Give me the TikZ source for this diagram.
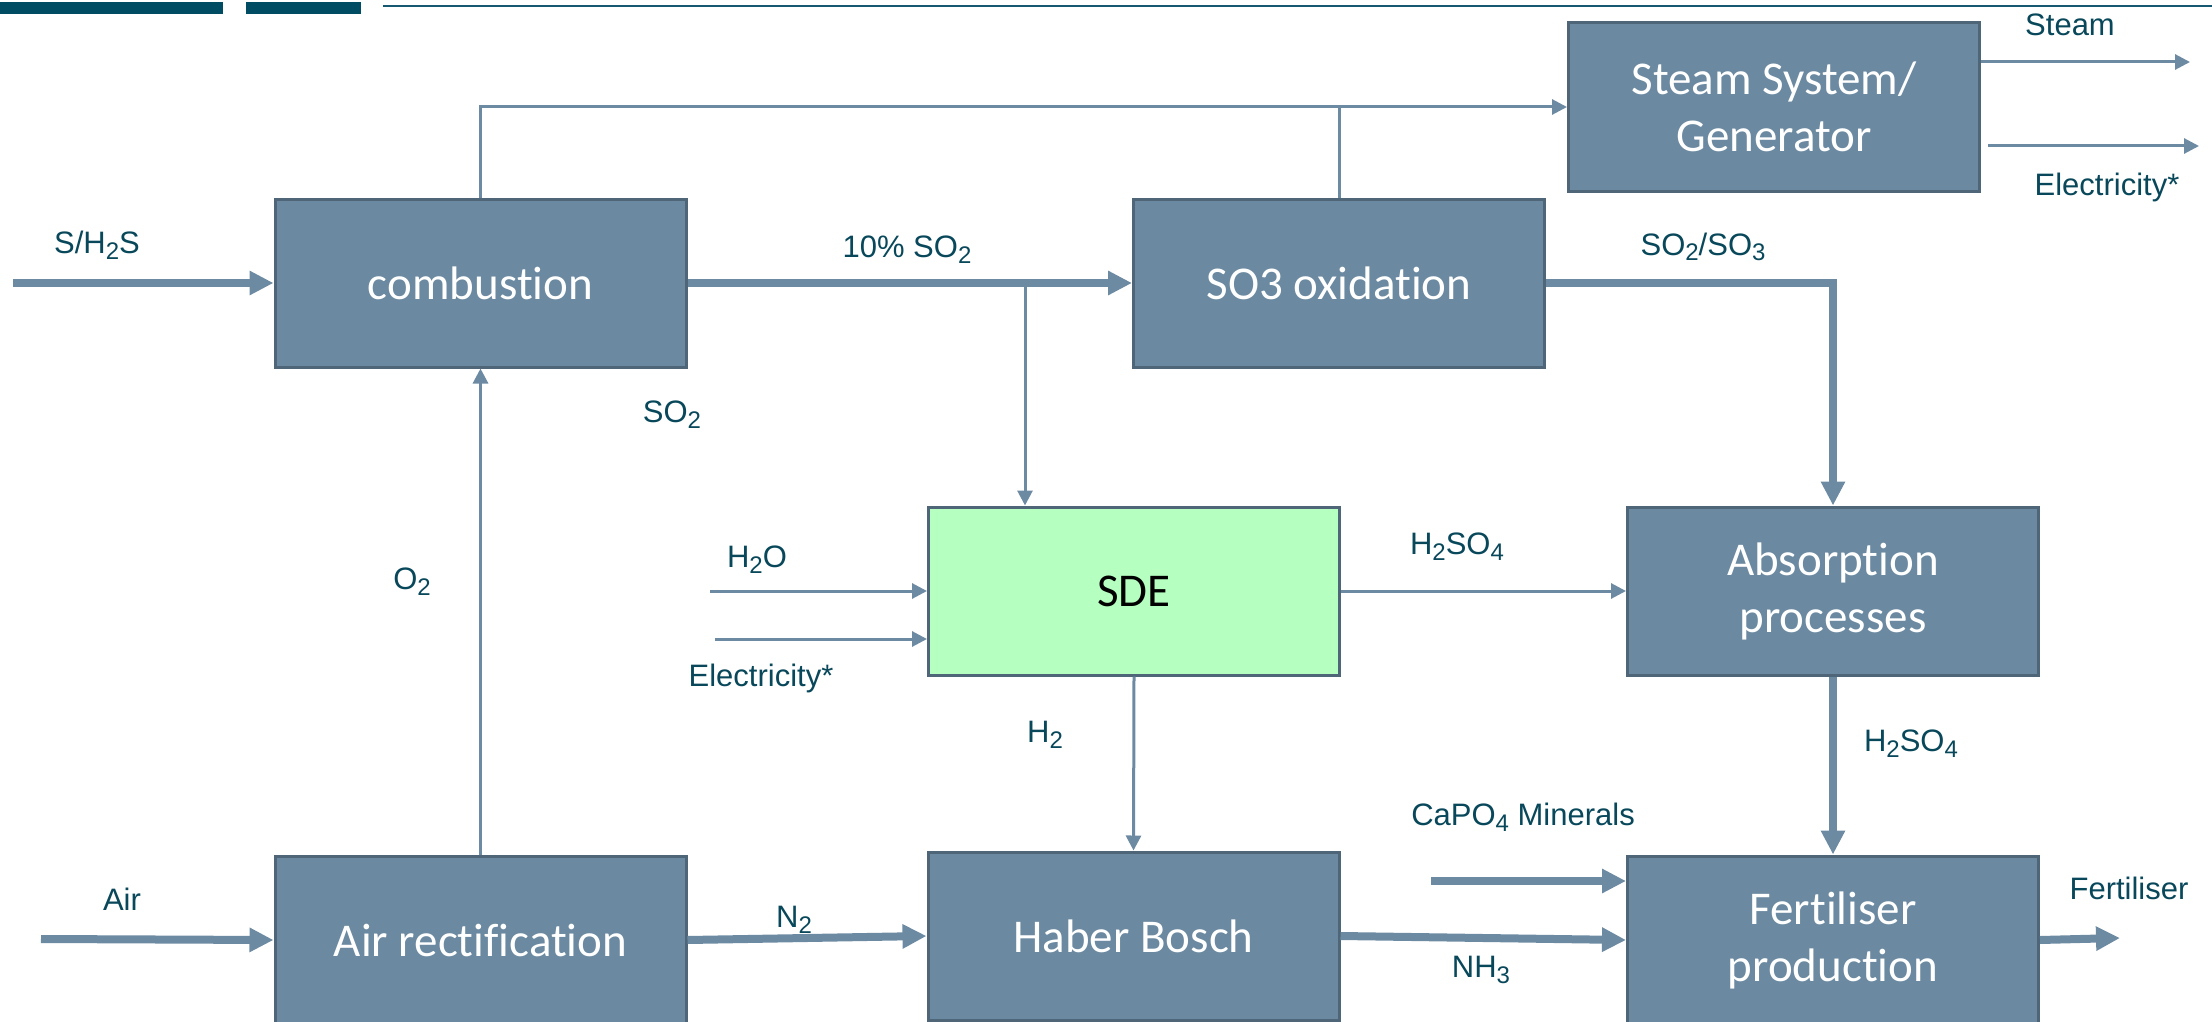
\documentclass[tikz,border=0pt]{standalone}
\usepackage{fontspec}
\setmainfont{Liberation Sans}
\newfontfamily\boxfont[Ligatures=NoCommon]{Carlito}
\usetikzlibrary{arrows.meta,calc}
\definecolor{boxfill}{RGB}{107,137,160}
\definecolor{boxborder}{RGB}{79,101,120}
\definecolor{arrowc}{RGB}{108,138,162}
\definecolor{labelc}{RGB}{8,72,90}
\definecolor{sdefill}{RGB}{181,255,193}
\definecolor{barc}{RGB}{0,76,99}
\newcommand\sbs[1]{\raisebox{-0.35ex}{\fontsize{12}{12}\selectfont #1}}
\begin{document}
\begin{tikzpicture}[x=0.5pt,y=-0.5pt,
  procbox/.style={draw=boxborder,line width=1.5pt,fill=boxfill,minimum width=205.5pt,minimum height=84pt,
    text=white,align=center,font=\boxfont\fontsize{23.5}{28.5}\selectfont,inner sep=0pt},
  lab/.style={text=labelc,font=\fontsize{15.5}{18}\selectfont,inner sep=0pt},
  thick arrow/.style={draw=arrowc,line width=4pt,-{Triangle[length=12pt,width=11.5pt]}},
  thin arrow/.style={draw=arrowc,line width=1.5pt,-{Triangle[length=7.5pt,width=7.5pt]}},
  thin line/.style={draw=arrowc,line width=1.5pt},
  thick line/.style={draw=arrowc,line width=4pt}]
\useasboundingbox (0,0) rectangle (2212,1022);
% header bars
\fill[barc] (0,2) rectangle (223,14);
\fill[barc] (246,2) rectangle (361,14);
\draw[barc!80!arrowc,line width=1pt] (383,6) -- (2212,6);
% boxes
\node[procbox] (comb) at (480.5,283) {combustion};
\node[procbox] (so3) at (1339,283) {SO3 oxidation};
\node[procbox] (steam) at (1774,107) {Steam System/\\Generator};
\node[procbox,fill=sdefill,text=black] (sde) at (1134,591) {SDE};
\node[procbox] (abs) at (1833,591) {Absorption\\processes};
\node[procbox] (air) at (480.5,940) {Air rectification};
\node[procbox] (haber) at (1133.5,936) {Haber Bosch};
\node[procbox] (fert) at (1833,940) {Fertiliser\\production};
% free-end coordinates
\coordinate (sin) at (13,283);
\coordinate (br1) at (1025,283);
\coordinate (stout) at (2190,62);
\coordinate (elout) at (2199,146);
\coordinate (elstart) at (1988,146);
\coordinate (h2oin) at (710,591);
\coordinate (elin) at (715,639);
\coordinate (airin) at (41,939);
\coordinate (capin) at (1431,881);
\coordinate (fout) at (2120,938);
% connectors
\draw[thick arrow] (sin) -- (comb.west);
\draw[thick arrow] (comb.east) -- (so3.west);
\draw[thin arrow] (br1) -- (br1 |- sde.north);
\draw[thick arrow] (so3.east) -| (abs.north);
\draw[thin arrow] (comb.north) |- (steam.west);
\draw[thin line] (so3.north) -- (so3.north |- steam.west);
\draw[thin arrow] (steam.east |- stout) -- (stout);
\draw[thin arrow] (elstart) -- (elout);
\draw[thin arrow] (h2oin) -- (sde.west);
\draw[thin arrow] (elin) -- (sde.west |- elin);
\draw[thin arrow] (sde.east) -- (abs.west);
\draw[thick arrow] (abs.south) -- (fert.north);
\draw[thin arrow] (sde.south) -- (haber.north);
\draw[thin arrow] (air.north) -- (comb.south);
\draw[thick arrow] (airin) -- (air.west);
\draw[thick arrow] (air.east) -- (haber.west);
\draw[thick arrow] (haber.east) -- (fert.west);
\draw[thick arrow] (capin) -- (fert.west |- capin);
\draw[thick arrow] (fert.east) -- (fout);
% labels
\node[lab] (l1) at (97,245) {S/H\sbs{2}S};
\node[lab] (l2) at (907,250) {10\% SO\sbs{2}};
\node[lab] (l3) at (1703,247) {SO\sbs{2}/SO\sbs{3}};
\node[lab] (l4) at (672,415) {SO\sbs{2}};
\node[lab] (l5) at (412,582) {O\sbs{2}};
\node[lab] (l6) at (757,560) {H\sbs{2}O};
\node[lab] (l7) at (761,678) {Electricity*};
\node[lab] (l8) at (1457,547) {H\sbs{2}SO\sbs{4}};
\node[lab] (l9) at (1911,744) {H\sbs{2}SO\sbs{4}};
\node[lab] (l10) at (1045,735) {H\sbs{2}};
\node[lab] (l11) at (1523,817) {CaPO\sbs{4} Minerals};
\node[lab] (l12) at (122,899) {Air};
\node[lab] (l13) at (794,920) {N\sbs{2}};
\node[lab] (l14) at (1481,970) {NH\sbs{3}};
\node[lab] (l15) at (2129,888) {Fertiliser};
\node[lab] (l16) at (2070,25) {Steam};
\node[lab] (l17) at (2107,187) {Electricity*};
\end{tikzpicture}
\end{document}
